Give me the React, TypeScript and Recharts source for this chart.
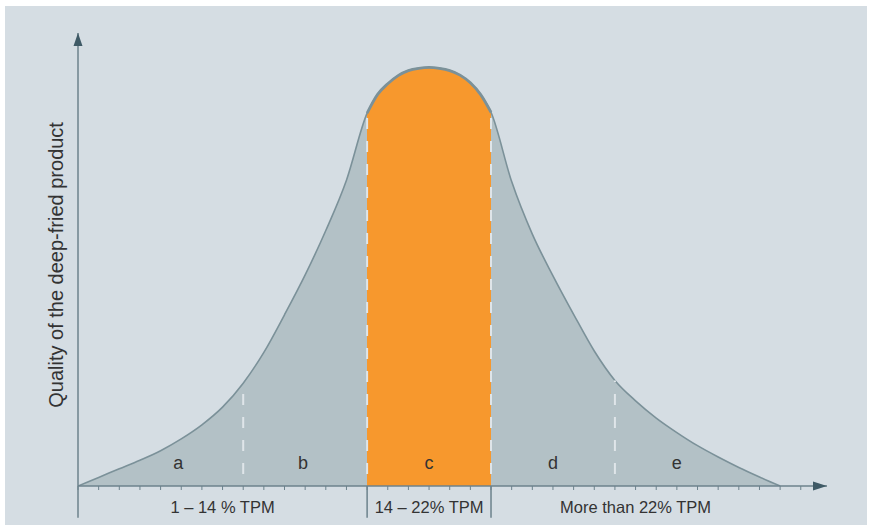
import { ComposedChart, Area, XAxis, YAxis, ReferenceLine, ReferenceDot } from 'recharts'

// x position in "tick" units, curve height (0 = axis, 100 = arrow tip)
const ticks = Array.from({ length: 36 }, (_, i) => i)
const curveX = [
  0, 1, 2, 3, 4, 5, 6, 7, 8, 9, 10, 11, 12, 13, 14,
  14.5, 15, 15.5, 16, 16.5, 17, 17.5, 18, 18.5, 19, 19.5, 20,
  21, 22, 23, 24, 25, 26, 27, 28, 29, 30, 31, 32, 33, 34,
]
const quality = [
  0, 1.9, 3.8, 5.7, 7.8, 10.4, 13.5, 17.4, 22.7, 29.5, 37.8, 46.6, 56.4, 67.5, 82.3,
  86.4, 88.8, 90.6, 91.7, 92.2, 92.4, 92.2, 91.7, 90.7, 89.0, 86.4, 82.5,
  67.2, 55.6, 46.4, 37.9, 29.8, 23.3, 18.8, 15.0, 11.8, 8.9, 6.4, 4.1, 2.0, 0,
]

const optimalFrom = 14
const optimalTo = 20
const dashedX = [8, 14, 20, 26]
const boundaryX = [0, 14, 20]

const regionLetters = ['a', 'b', 'c', 'd', 'e']
const regionLetterX = [4.85, 10.9, 17, 23, 29]
const rangeLabels = ['1 – 14 % TPM', '14 – 22% TPM', 'More than 22% TPM']
const rangeLabelX = [7, 17, 27]
const yTitle = 'Quality of the deep-fried product'

const X_MAX = 36.27
const FONT = 'Liberation Sans, Arial, sans-serif'
const GREY = '#b3c1c6'
const ORANGE = '#f7982d'
const LINE = '#7b9199'
const AXIS = '#6c828c'

const chartData = curveX.map((t, i) => ({
  t,
  quality: quality[i],
  optimal: t >= optimalFrom && t <= optimalTo ? quality[i] : null,
}))

const qualityAt = (t: number) => quality[curveX.indexOf(t)]
const lastX = curveX[curveX.length - 1]
const fromOff = optimalFrom / lastX
const toOff = optimalTo / lastX

export default function App() {
  return (
    <div style={{ position: 'relative', width: 872, height: 529, background: '#fff', fontFamily: FONT }}>
      <style>{'body{margin:0}'}</style>
      <div style={{ position: 'absolute', left: 5, top: 6, width: 862, height: 519, background: '#d5dde3' }} />
      <div style={{ position: 'absolute', left: 0, top: 0 }}>
        <ComposedChart width={872} height={529} data={chartData} margin={{ top: 33, right: 45, bottom: 13, left: 78 }}>
          <defs>
            <linearGradient id="zone" x1="0" y1="0" x2="1" y2="0">
              <stop offset={0} stopColor={GREY} />
              <stop offset={fromOff} stopColor={GREY} />
              <stop offset={fromOff} stopColor={ORANGE} />
              <stop offset={toOff} stopColor={ORANGE} />
              <stop offset={toOff} stopColor={GREY} />
              <stop offset={1} stopColor={GREY} />
            </linearGradient>
          </defs>
          <XAxis
            dataKey="t"
            type="number"
            domain={[0, X_MAX]}
            allowDataOverflow
            ticks={ticks}
            interval={0}
            tickSize={4}
            tickFormatter={() => ''}
            tickLine={{ stroke: AXIS }}
            axisLine={{ stroke: AXIS, strokeWidth: 1.5 }}
            height={30}
          />
          <YAxis hide domain={[0, 100]} allowDataOverflow />

          {/* whole curve, orange between 14 and 20 */}
          <Area
            type="monotone"
            dataKey="quality"
            stroke={LINE}
            strokeWidth={1.6}
            fill="url(#zone)"
            fillOpacity={1}
            isAnimationActive={false}
          />
          {/* heavier outline over the optimal range */}
          <Area
            type="monotone"
            dataKey="optimal"
            stroke={LINE}
            strokeWidth={2.8}
            fill="none"
            isAnimationActive={false}
          />

          {/* y axis */}
          <ReferenceLine x={0} stroke={AXIS} strokeWidth={1.5} />

          {/* white dashed dividers */}
          {dashedX.map((x) => (
            <ReferenceLine
              key={'d' + x}
              segment={[{ x, y: 0 }, { x, y: qualityAt(x) }]}
              stroke="#dfe5e9"
              strokeWidth={2}
              strokeDasharray="11 12"
              strokeDashoffset={11}
              ifOverflow="visible"
            />
          ))}

          {/* long ticks below the axis */}
          {boundaryX.map((x) => (
            <ReferenceLine
              key={'b' + x}
              segment={[{ x, y: 0 }, { x, y: -7 }]}
              stroke={AXIS}
              strokeWidth={1.5}
              ifOverflow="visible"
            />
          ))}

          {/* arrow heads */}
          <ReferenceDot
            x={X_MAX}
            y={0}
            ifOverflow="visible"
            shape={(p: any) => (
              <path d={`M${p.cx},${p.cy} L${p.cx - 14},${p.cy - 4.5} L${p.cx - 14},${p.cy + 4.5} Z`} fill="#3f5a66" />
            )}
          />
          <ReferenceDot
            x={0}
            y={100}
            ifOverflow="visible"
            shape={(p: any) => (
              <path d={`M${p.cx},${p.cy} L${p.cx - 4.5},${p.cy + 13} L${p.cx + 4.5},${p.cy + 13} Z`} fill="#3f5a66" />
            )}
          />

          {regionLetters.map((s, i) => (
            <ReferenceDot
              key={'l' + s}
              x={regionLetterX[i]}
              y={5.1}
              ifOverflow="visible"
              shape={(p: any) => (
                <text x={p.cx} y={p.cy} textAnchor="middle" dominantBaseline="central" fontSize={18} fill="#333" fontFamily={FONT}>
                  {s}
                </text>
              )}
            />
          ))}

          {rangeLabels.map((s, i) => (
            <ReferenceDot
              key={'r' + i}
              x={rangeLabelX[i]}
              y={-4.6}
              ifOverflow="visible"
              shape={(p: any) => (
                <text x={p.cx} y={p.cy} textAnchor="middle" dominantBaseline="central" fontSize={16.5} fill="#333" fontFamily={FONT}>
                  {s}
                </text>
              )}
            />
          ))}

          <ReferenceDot
            x={-1.07}
            y={48.8}
            ifOverflow="visible"
            shape={(p: any) => (
              <text
                x={p.cx}
                y={p.cy}
                textAnchor="middle"
                dominantBaseline="central"
                fontSize={20}
                fill="#333"
                fontFamily={FONT}
                transform={`rotate(-90 ${p.cx} ${p.cy})`}
              >
                {yTitle}
              </text>
            )}
          />
        </ComposedChart>
      </div>
    </div>
  )
}
